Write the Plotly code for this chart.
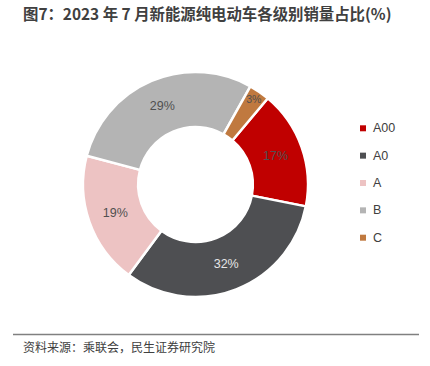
import plotly.graph_objects as go

labels = ["A00", "A0", "A", "B", "C"]
values = [17, 32, 19, 29, 3]
colors = ["#C00000", "#4E4F52", "#EDC3C3", "#B4B4B4", "#C0793F"]
text_colors = ["#505050", "#E6E6E6", "#505050", "#505050", "#505050"]
title_text = "图7：2023 年 7 月新能源纯电动车各级别销量占比(%)"
source_text = "资料来源：乘联会，民生证券研究院"

W, H = 430, 366


def px(x):
    return x / W


def py(y):
    return 1 - y / H


cx, cy, R = 195.5, 184.5, 112.5

fig = go.Figure()
fig.add_trace(go.Pie(
    labels=labels, values=values, sort=False, direction="clockwise", rotation=40,
    hole=0.51,
    marker=dict(colors=colors, line=dict(color="white", width=2.5)),
    texttemplate="%{value}%", textposition="inside", insidetextorientation="horizontal",
    textfont=dict(family="Liberation Sans, Noto Sans", size=12.5, color=text_colors),
    showlegend=False, hoverinfo="label+percent",
    domain=dict(x=[px(cx - R), px(cx + R)], y=[py(cy + R), py(cy - R)]),
))

# manual legend
lx, ly0, dy = 363, 128.3, 27.35
for i, (lab, col) in enumerate(zip(labels, colors)):
    y = ly0 + i * dy
    fig.add_shape(type="rect", xref="paper", yref="paper",
                  x0=px(lx - 3), x1=px(lx + 3), y0=py(y + 3), y1=py(y - 3),
                  fillcolor=col, line=dict(width=0))
    fig.add_annotation(text=lab, xref="paper", yref="paper", x=px(lx + 8), y=py(y),
                       xanchor="left", yanchor="middle", showarrow=False,
                       font=dict(family="Liberation Sans, Noto Sans", size=12.5, color="#404040"))

fig.add_annotation(text="<b>" + title_text + "</b>", xref="paper", yref="paper",
                   x=px(21), y=py(13.5), xanchor="left", yanchor="middle", showarrow=False,
                   font=dict(family="Noto Sans CJK SC", size=15.4, color="#404040"))
fig.add_shape(type="line", xref="paper", yref="paper", x0=px(13), x1=px(419),
              y0=py(334.5), y1=py(334.5), line=dict(color="#808080", width=1.5))
fig.add_annotation(text=source_text, xref="paper", yref="paper",
                   x=px(21), y=py(346), xanchor="left", yanchor="middle", showarrow=False,
                   font=dict(family="Noto Sans CJK SC", size=12, color="#404040"))

fig.update_layout(width=W, height=H, margin=dict(l=0, r=0, t=0, b=0),
                  paper_bgcolor="white", plot_bgcolor="white")
fig.write_html("out.html", config={"displayModeBar": False},
               post_script="document.body.style.margin='0';document.body.style.overflow='hidden';")
